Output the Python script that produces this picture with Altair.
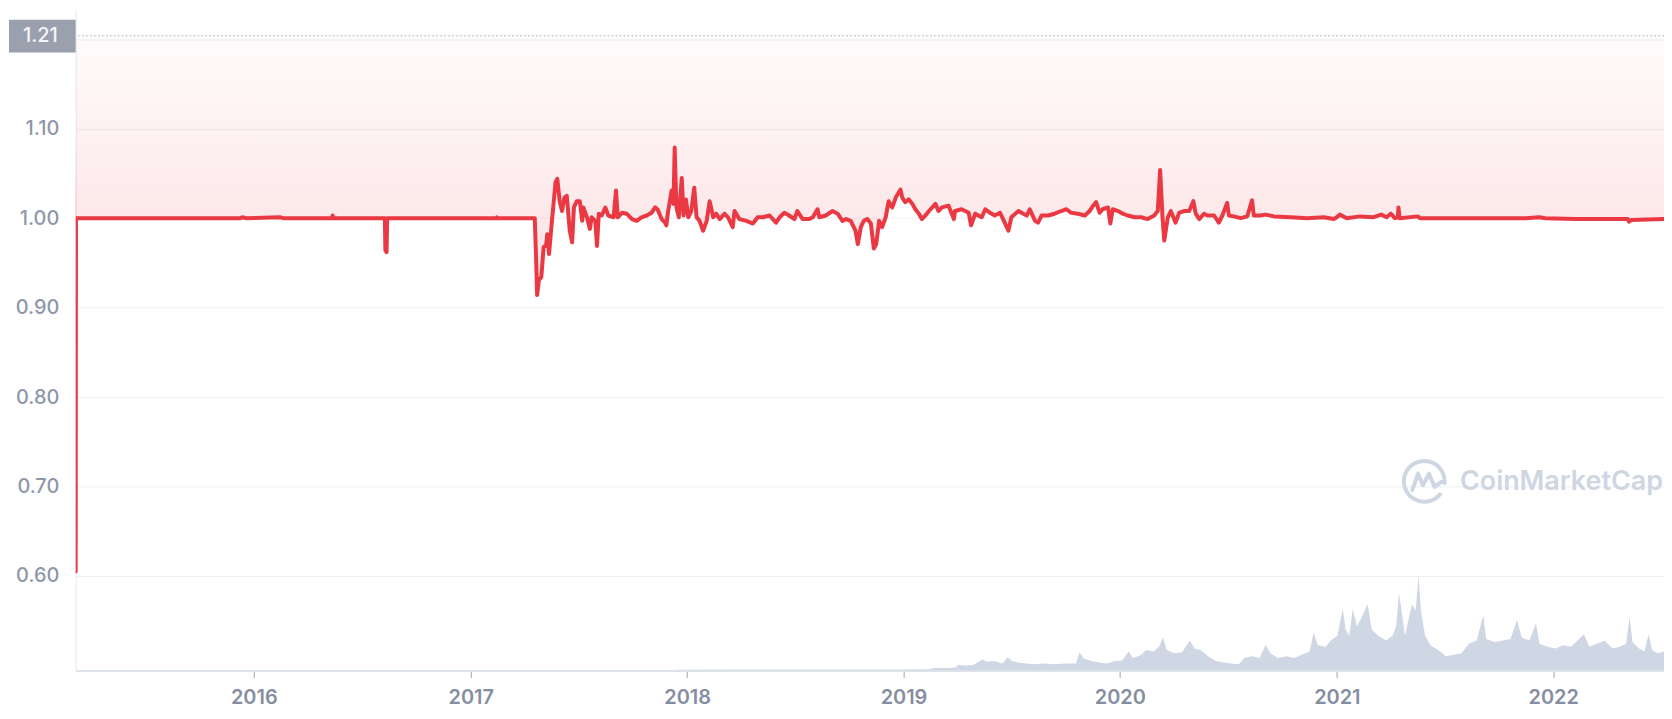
import altair as alt
import pandas as pd

# ---------------- data ----------------
price_2015_2017 = [
    ("2015-03-01", 1.21), ("2015-03-06T12:00:00", 0.605), ("2015-03-07", 1.000),
    ("2015-12-10", 1.000), ("2015-12-12", 1.001), ("2015-12-20", 1.000),
    ("2016-02-15", 1.001), ("2016-02-20", 1.000),
    ("2016-05-12", 1.000), ("2016-05-13", 1.003), ("2016-05-14", 1.000),
    ("2016-08-09", 1.000), ("2016-08-10", 0.964), ("2016-08-12", 0.962), ("2016-08-13", 1.000),
    ("2017-02-13", 1.000), ("2017-02-14", 1.001), ("2017-02-15", 1.000),
    ("2017-04-19", 1.000),
]
price_2017 = [
    ("2017-04-21", 0.960), ("2017-04-23", 0.914), ("2017-04-26", 0.931), ("2017-04-30", 0.934),
    ("2017-05-04", 0.968), ("2017-05-08", 0.969), ("2017-05-10", 0.982), ("2017-05-13", 0.960),
    ("2017-05-18", 0.997), ("2017-05-24", 1.040), ("2017-05-27", 1.044), ("2017-05-31", 1.019),
    ("2017-06-04", 1.008), ("2017-06-08", 1.023), ("2017-06-12", 1.025), ("2017-06-17", 0.986),
    ("2017-06-21", 0.973), ("2017-06-24", 1.012), ("2017-06-29", 1.019), ("2017-07-04", 1.019),
    ("2017-07-08", 0.997), ("2017-07-10", 1.012), ("2017-07-16", 1.001), ("2017-07-21", 0.988),
    ("2017-07-24", 1.001), ("2017-07-30", 0.997), ("2017-08-02", 0.969), ("2017-08-05", 1.005),
    ("2017-08-10", 1.003), ("2017-08-16", 1.012), ("2017-08-21", 1.003), ("2017-08-30", 1.001),
    ("2017-09-03", 1.031), ("2017-09-06", 1.001), ("2017-09-13", 1.006), ("2017-09-21", 1.005),
    ("2017-09-30", 0.999), ("2017-10-08", 0.997), ("2017-10-16", 1.001), ("2017-10-25", 1.003),
    ("2017-11-02", 1.006), ("2017-11-08", 1.012), ("2017-11-12", 1.010), ("2017-11-19", 0.999),
    ("2017-11-25", 0.995), ("2017-11-27", 0.992), ("2017-11-30", 1.008), ("2017-12-06", 1.031),
    ("2017-12-09", 1.016), ("2017-12-11", 1.079), ("2017-12-14", 1.012), ("2017-12-18", 1.001),
    ("2017-12-23", 1.045), ("2017-12-26", 1.003), ("2017-12-30", 1.021),
]
price_2018 = [
    ("2018-01-03", 1.001), ("2018-01-08", 1.008), ("2018-01-13", 1.034), ("2018-01-17", 1.001),
    ("2018-01-22", 0.997), ("2018-01-28", 0.986), ("2018-02-03", 0.997), ("2018-02-08", 1.019),
    ("2018-02-14", 1.001), ("2018-02-19", 1.005), ("2018-02-25", 0.999), ("2018-03-05", 1.005),
    ("2018-03-11", 1.001), ("2018-03-19", 0.990), ("2018-03-22", 1.008), ("2018-03-30", 0.999),
    ("2018-04-11", 0.997), ("2018-04-22", 0.994), ("2018-04-30", 1.001), ("2018-05-09", 1.001),
    ("2018-05-20", 1.003), ("2018-05-31", 0.995), ("2018-06-06", 1.001), ("2018-06-14", 1.006),
    ("2018-06-22", 1.003), ("2018-07-01", 0.999), ("2018-07-06", 1.008), ("2018-07-15", 0.999),
    ("2018-07-26", 0.999), ("2018-08-01", 1.001), ("2018-08-09", 1.010), ("2018-08-12", 1.001),
    ("2018-08-23", 1.003), ("2018-09-03", 1.008), ("2018-09-12", 1.005), ("2018-09-20", 0.997),
    ("2018-09-26", 0.999), ("2018-10-04", 0.997), ("2018-10-12", 0.986), ("2018-10-16", 0.971),
    ("2018-10-21", 0.990), ("2018-10-26", 0.997), ("2018-11-01", 0.999), ("2018-11-07", 0.994),
    ("2018-11-12", 0.966), ("2018-11-16", 0.971), ("2018-11-21", 0.997), ("2018-11-26", 0.990),
    ("2018-12-02", 1.001), ("2018-12-07", 1.019), ("2018-12-13", 1.012), ("2018-12-19", 1.023),
    ("2018-12-27", 1.032), ("2018-12-30", 1.023),
]
price_2019 = [
    ("2019-01-04", 1.018), ("2019-01-10", 1.021), ("2019-01-16", 1.016), ("2019-01-21", 1.010),
    ("2019-01-27", 1.005), ("2019-02-01", 0.999), ("2019-02-07", 1.003), ("2019-02-13", 1.008),
    ("2019-02-24", 1.016), ("2019-03-01", 1.008), ("2019-03-07", 1.012), ("2019-03-18", 1.014),
    ("2019-03-27", 0.999), ("2019-03-29", 1.008), ("2019-04-09", 1.010), ("2019-04-21", 1.006),
    ("2019-04-25", 0.992), ("2019-05-02", 1.005), ("2019-05-13", 1.001), ("2019-05-19", 1.010),
    ("2019-05-27", 1.006), ("2019-06-04", 1.003), ("2019-06-13", 1.006), ("2019-06-18", 0.999),
    ("2019-06-27", 0.986), ("2019-07-02", 1.001), ("2019-07-14", 1.008), ("2019-07-19", 1.006),
    ("2019-07-28", 1.003), ("2019-08-02", 1.010), ("2019-08-11", 0.997), ("2019-08-16", 0.995),
    ("2019-08-22", 1.003), ("2019-09-02", 1.003), ("2019-09-13", 1.005), ("2019-09-24", 1.008),
    ("2019-10-03", 1.010), ("2019-10-11", 1.006), ("2019-10-22", 1.005), ("2019-11-03", 1.003),
    ("2019-11-11", 1.008), ("2019-11-17", 1.014), ("2019-11-22", 1.018), ("2019-11-28", 1.006),
    ("2019-12-03", 1.010), ("2019-12-12", 1.012), ("2019-12-16", 0.994), ("2019-12-20", 1.010),
    ("2019-12-29", 1.008),
]
price_2020 = [
    ("2020-01-06", 1.005), ("2020-01-14", 1.003), ("2020-01-26", 1.001), ("2020-02-06", 1.001),
    ("2020-02-17", 0.999), ("2020-02-28", 1.003), ("2020-03-05", 1.008), ("2020-03-09", 1.054),
    ("2020-03-13", 1.001), ("2020-03-16", 0.975), ("2020-03-22", 1.001), ("2020-03-27", 1.008),
    ("2020-04-04", 0.995), ("2020-04-10", 1.006), ("2020-04-18", 1.008), ("2020-04-27", 1.008),
    ("2020-05-04", 1.019), ("2020-05-08", 1.005), ("2020-05-14", 0.999), ("2020-05-22", 1.005),
    ("2020-05-28", 1.003), ("2020-06-08", 1.003), ("2020-06-16", 0.995), ("2020-06-22", 1.003),
    ("2020-06-30", 1.017), ("2020-07-03", 1.003), ("2020-07-11", 1.002), ("2020-07-23", 1.000),
    ("2020-08-03", 1.002), ("2020-08-11", 1.020), ("2020-08-14", 1.003), ("2020-08-25", 1.003),
    ("2020-09-03", 1.004), ("2020-09-17", 1.002), ("2020-10-15", 1.001), ("2020-11-12", 1.000),
    ("2020-12-10", 1.001), ("2020-12-27", 0.999),
]
price_2021_2022 = [
    ("2021-01-01", 1.001), ("2021-01-06", 1.004), ("2021-01-18", 1.000), ("2021-02-09", 1.002),
    ("2021-03-03", 1.001), ("2021-03-17", 1.004), ("2021-03-26", 1.001), ("2021-04-02", 1.005),
    ("2021-04-09", 1.000), ("2021-04-14", 1.001), ("2021-04-15", 1.012), ("2021-04-17", 1.000),
    ("2021-05-18", 1.002), ("2021-05-21", 1.000), ("2021-06-29", 1.000), ("2021-08-13", 1.000),
    ("2021-10-02", 1.000), ("2021-11-16", 1.000), ("2021-12-08", 1.001), ("2021-12-19", 1.000),
    ("2022-02-08", 0.999), ("2022-05-07", 0.999), ("2022-05-09", 0.996), ("2022-05-13", 0.998),
    ("2022-07-07", 0.999),
]

volume_2017_2019 = [
    ("2017-12-01", 0), ("2017-12-15", 2), ("2018-03-01", 3), ("2018-06-01", 3), ("2018-09-26", 3),
    ("2018-12-23", 3), ("2019-02-14", 4), ("2019-02-22", 8), ("2019-03-21", 8), ("2019-03-31", 10),
    ("2019-04-03", 18), ("2019-04-16", 15), ("2019-04-29", 18), ("2019-05-08", 28), ("2019-05-14", 36),
    ("2019-05-21", 28), ("2019-06-03", 30), ("2019-06-17", 22), ("2019-06-26", 42), ("2019-07-03", 30),
    ("2019-07-13", 25), ("2019-07-27", 22), ("2019-08-09", 20), ("2019-08-27", 22), ("2019-09-14", 20),
    ("2019-10-01", 22), ("2019-10-19", 22), ("2019-10-25", 58), ("2019-11-01", 38), ("2019-11-14", 30),
    ("2019-11-27", 25), ("2019-12-10", 22), ("2019-12-23", 30),
]
volume_2020 = [
    ("2020-01-05", 32), ("2020-01-16", 60), ("2020-01-23", 40), ("2020-02-05", 48), ("2020-02-14", 65),
    ("2020-02-27", 60), ("2020-03-07", 75), ("2020-03-14", 105), ("2020-03-20", 65), ("2020-04-02", 55),
    ("2020-04-15", 58), ("2020-04-28", 95), ("2020-05-06", 70), ("2020-05-16", 65), ("2020-05-29", 45),
    ("2020-06-11", 30), ("2020-06-24", 25), ("2020-07-07", 22), ("2020-07-20", 20), ("2020-07-29", 40),
    ("2020-08-11", 45), ("2020-08-24", 40), ("2020-09-03", 82), ("2020-09-11", 55), ("2020-09-24", 40),
    ("2020-10-08", 45), ("2020-10-21", 40), ("2020-11-03", 50), ("2020-11-16", 60), ("2020-11-23", 120),
    ("2020-11-30", 80), ("2020-12-13", 75), ("2020-12-22", 95),
]
volume_2021 = [
    ("2021-01-02", 110), ("2021-01-11", 195), ("2021-01-16", 130), ("2021-01-22", 110), ("2021-01-28", 195),
    ("2021-02-04", 140), ("2021-02-11", 165), ("2021-02-22", 210), ("2021-03-01", 130), ("2021-03-12", 110),
    ("2021-03-25", 95), ("2021-04-05", 110), ("2021-04-11", 140), ("2021-04-16", 245), ("2021-04-21", 180),
    ("2021-04-26", 110), ("2021-05-03", 170), ("2021-05-08", 210), ("2021-05-14", 190), ("2021-05-19", 300),
    ("2021-05-23", 190), ("2021-05-30", 110), ("2021-06-08", 80), ("2021-06-21", 65), ("2021-07-04", 45),
    ("2021-07-17", 50), ("2021-07-30", 55), ("2021-08-12", 85), ("2021-08-25", 95), ("2021-09-05", 175),
    ("2021-09-10", 100), ("2021-09-25", 90), ("2021-10-08", 95), ("2021-10-21", 100), ("2021-11-01", 160),
    ("2021-11-09", 105), ("2021-11-22", 95), ("2021-12-03", 150), ("2021-12-09", 85), ("2021-12-22", 75),
]
volume_2022 = [
    ("2022-01-05", 70), ("2022-01-18", 80), ("2022-01-31", 75), ("2022-02-22", 115), ("2022-03-03", 75),
    ("2022-03-16", 85), ("2022-03-29", 95), ("2022-04-11", 70), ("2022-04-24", 75), ("2022-05-04", 85),
    ("2022-05-10", 170), ("2022-05-15", 90), ("2022-05-26", 70), ("2022-06-04", 60), ("2022-06-11", 115),
    ("2022-06-17", 65), ("2022-06-26", 55), ("2022-07-07", 60),
]

y_ticks = [0.60, 0.70, 0.80, 0.90, 1.00, 1.10, 1.20]
x_tick_years = [2016, 2017, 2018, 2019, 2020, 2021, 2022]
high_value = 1.204
high_label = ["1.21"]
brand = ["CoinMarketCap"]

# ---------------- build tables ----------------
def table(pairs, col):
    return pd.DataFrame({"date": [d for d, _ in pairs], col: [v for _, v in pairs]})

price_df = table(price_2015_2017 + price_2017 + price_2018 + price_2019 + price_2020 + price_2021_2022, "price")
area_df = price_df.iloc[2:].reset_index(drop=True)
vol_df = table(volume_2017_2019 + volume_2020 + volume_2021 + volume_2022, "volume")

RED = "#ea3943"
FONT = "Inter"

x_scale = alt.Scale(
    type="utc",
    domain=[alt.DateTime(year=2015, month=3, date=6, hours=12, utc=True),
            alt.DateTime(year=2022, month=7, date=7, utc=True)],
)
x_axis = alt.Axis(
    values=[alt.DateTime(year=y, month=1, date=1, utc=True) for y in x_tick_years],
    labelExpr="utcFormat(datum.value, '%Y')",
    title=None, grid=False, domain=True, domainColor="#dde1ea", domainWidth=2,
    ticks=True, tickColor="#9ba2b0", tickSize=7, tickWidth=1,
    labelPadding=10, labelFont=FONT, labelFontSize=20, labelFontWeight=600,
    labelColor="#858ea1", labelFlush=False, labelOverlap=False, zindex=1,
)
X = alt.X("date:T", scale=x_scale, axis=x_axis)

y_scale = alt.Scale(domain=[0.4943, 1.2331], nice=False, zero=False)
y_axis = alt.Axis(
    values=y_ticks, orient="left",
    labelExpr="datum.value > 1.15 ? '' : format(datum.value, '.2f')",
    title=None, grid=True, gridColor="#eceff3", gridWidth=1,
    domain=True, domainColor="#e6e9ee", ticks=False,
    labelPadding=17, labelFont=FONT, labelFontSize=20, labelFontWeight=500,
    labelColor="#8e97a9", labelOverlap=False,
)
Y = alt.Y("price:Q", scale=y_scale, axis=y_axis)

gradient = alt.Gradient(
    gradient="linear", x1=0, x2=0, y1=0, y2=1,
    stops=[
        alt.GradientStop(color="rgba(234,57,67,0.02)", offset=0),
        alt.GradientStop(color="rgba(234,57,67,0.115)", offset=0.7),
        alt.GradientStop(color="rgba(234,57,67,0.14)", offset=1),
    ],
)

volume = alt.Chart(vol_df).mark_area(color="#cfd6e4", opacity=1, clip=True).encode(
    x=X,
    y=alt.Y("volume:Q", scale=alt.Scale(domain=[0, 2097], nice=False, zero=True), axis=None),
)

area = alt.Chart(area_df).mark_area(color=gradient, clip=True).encode(
    x=X, y=Y, y2=alt.datum(high_value)
)

line = alt.Chart(price_df).mark_line(
    color=RED, strokeWidth=4, strokeJoin="round", strokeCap="round", clip=True
).encode(x=X, y=Y)

high_rule = alt.Chart(pd.DataFrame({"high": [high_value]})).mark_rule(
    color="#aab0bc", strokeWidth=1, strokeDash=[1.5, 2.5]
).encode(y=alt.Y("high:Q", scale=y_scale, axis=y_axis))

label_df = pd.DataFrame({"label": high_label})
high_box = alt.Chart(label_df).mark_rect(color="#9aa0ad").encode(
    x=alt.value(-67), x2=alt.value(0), y=alt.value(10), y2=alt.value(43)
)
high_text = alt.Chart(label_df).mark_text(
    align="right", baseline="middle", font=FONT, fontSize=20, fontWeight=500, color="#f4f5f7"
).encode(x=alt.value(-18), y=alt.value(26.5), text="label:N")

brand_df = pd.DataFrame({"brand": brand})
logo_path = ("M 0.77 0.64 A 1 1 0 1 1 1.0 0.09 "
             "M -0.58 0.43 L -0.3 -0.38 L -0.06 0.19 L 0.24 -0.38 L 0.51 0.27 L 0.84 0.02")
logo = alt.Chart(brand_df).mark_point(
    shape=logo_path, size=1681, filled=False, stroke="#cfd6e3", strokeWidth=4,
    strokeCap="round", strokeJoin="round", opacity=1
).encode(x=alt.value(1355), y=alt.value(474))
brand_text = alt.Chart(brand_df).mark_text(
    align="left", baseline="middle", font=FONT, fontSize=27, fontWeight=600, color="#cfd6e3"
).encode(x=alt.value(1391), y=alt.value(475), text="brand:N")

price_layer = alt.layer(area, line, high_rule, high_box, high_text, logo, brand_text)

chart = alt.layer(volume, price_layer).resolve_scale(y="independent").properties(
    width=1596, height=664,
    padding={"left": 68, "top": 0, "right": 0, "bottom": 39},
    autosize=alt.AutoSizeParams(type="none"),
    background="white",
).configure_view(stroke=None)

chart.save("out.html", embed_options={"renderer": "svg", "actions": False})
